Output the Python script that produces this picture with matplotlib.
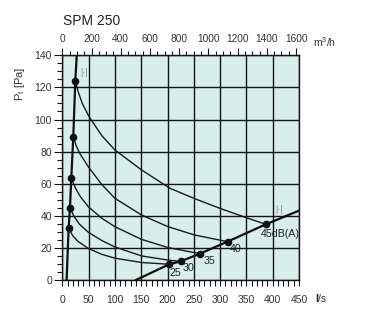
import matplotlib
matplotlib.use('Agg')
import matplotlib.pyplot as plt
from matplotlib.ticker import MultipleLocator, FixedLocator

plt.rcParams['font.family'] = ['Liberation Sans', 'DejaVu Sans']

# ---- data (flow in l/s, pressure in Pa) ----
left_q = [8.2, 12.0, 14.6, 17.1, 20.9, 24.7, 27.5]
left_p = [0, 32.2, 45.1, 63.6, 89.3, 124.2, 140]

right_q = [140, 203.3, 224.8, 261.6, 314.1, 387.0, 450]
right_p = [0, 9.8, 11.6, 16.4, 23.9, 34.7, 43.2]

dots_left_q = [12.0, 14.6, 17.1, 20.9, 24.7]
dots_left_p = [32.2, 45.1, 63.6, 89.3, 124.2]
dots_right_q = [203.3, 224.8, 261.6, 314.1, 387.0]
dots_right_p = [9.8, 11.6, 16.4, 23.9, 34.7]

c45_q = [24.7, 30, 38, 51, 75, 100, 151, 205, 250, 300, 350, 387.0]
c45_p = [124.2, 117.5, 110.0, 101.7, 90.0, 81.0, 68.5, 57.1, 50.9, 44.6, 38.8, 34.7]

c40_q = [20.9, 26, 33, 49.4, 75, 100, 150.7, 201, 252, 314.1]
c40_p = [89.3, 84.0, 79.0, 70.6, 59.5, 50.9, 40.5, 33.2, 28.0, 23.9]

c35_q = [17.1, 25, 35, 49.4, 75, 100, 150.7, 201, 261.6]
c35_p = [63.6, 57.2, 51.6, 45.7, 38.5, 33.2, 25.3, 20.2, 16.4]

c30_q = [14.6, 22, 32, 49.4, 75, 100, 150.7, 201, 224.8]
c30_p = [45.1, 39.8, 35.0, 29.8, 24.6, 20.6, 15.0, 12.4, 11.6]

c25_q = [12.0, 20, 30, 49.4, 75, 100, 150.7, 203.3]
c25_p = [32.2, 27.5, 24.0, 19.7, 16.0, 13.6, 10.9, 9.8]

curves_q = [c45_q, c40_q, c35_q, c30_q, c25_q]
curves_p = [c45_p, c40_p, c35_p, c30_p, c25_p]

label_texts = ['25', '30', '35', '40', '45dB(A)']
label_q = [215.6, 239.5, 279.5, 328.9, 414.0]
label_p = [4.2, 7.3, 12.0, 19.3, 28.7]

marker_q = [41.3, 412.6]
marker_p = [129.4, 44.2]

top_ticks = [0, 200, 400, 600, 800, 1000, 1200, 1400, 1600]
top_minor = [50, 100, 150, 250, 300, 350, 450, 500, 550, 650, 700, 750, 850, 900, 950,
             1050, 1100, 1150, 1250, 1300, 1350, 1450, 1500, 1550]

# ---- figure ----
W, H = 365, 327
fig = plt.figure(figsize=(W / 100, H / 100), dpi=100)
x0, x1, y0, y1 = 62.3, 299.0, 55.3, 280.0
ax = fig.add_axes([x0 / W, 1 - y1 / H, (x1 - x0) / W, (y1 - y0) / H])
ax.set_facecolor('#d7eeea')
ax.set_xlim(0, 450)
ax.set_ylim(0, 140)

ax.xaxis.set_major_locator(MultipleLocator(50))
ax.xaxis.set_minor_locator(MultipleLocator(10))
ax.yaxis.set_major_locator(MultipleLocator(20))
ax.yaxis.set_minor_locator(MultipleLocator(5))
ax.grid(which='major', color='#141414', lw=1.0)
ax.set_axisbelow(True)
for s in ax.spines.values():
    s.set_color('#141414')
    s.set_linewidth(1.0)

ax.tick_params(axis='x', which='major', direction='out', length=4, width=0.8,
               pad=6.5, labelsize=7.5, labelcolor='#333333', color='#141414')
ax.tick_params(axis='x', which='minor', direction='out', length=4, width=0.8,
               color='#141414')
ax.tick_params(axis='y', which='major', direction='out', length=6, width=0.8,
               pad=1.5, labelsize=7.5, labelcolor='#333333', color='#141414')
ax.tick_params(axis='y', which='minor', direction='out', length=3.5, width=0.8,
               color='#141414')

sec = ax.secondary_xaxis('top', functions=(lambda x: x * 3.6, lambda x: x / 3.6))
sec.xaxis.set_major_locator(FixedLocator(top_ticks))
sec.xaxis.set_minor_locator(FixedLocator(top_minor))
sec.tick_params(which='major', direction='out', length=5, width=0.8, pad=3,
                labelsize=7.3, labelcolor='#333333', color='#141414')
sec.tick_params(which='minor', direction='out', length=3, width=0.8, color='#141414')
sec.spines['top'].set_visible(False)

# curves
for cq, cp in zip(curves_q, curves_p):
    ax.plot(cq, cp, color='#1a1a1a', lw=1.0, zorder=3)
ax.plot(left_q, left_p, color='#111111', lw=1.6, zorder=4)
ax.plot(right_q, right_p, color='#111111', lw=1.6, zorder=4)
ax.plot(dots_left_q, dots_left_p, 'o', ms=4.5, color='#111111', zorder=5)
ax.plot(dots_right_q, dots_right_p, 'o', ms=4.5, color='#111111', zorder=5)

for t, q, p in zip(label_texts, label_q, label_p):
    ax.text(q, p, t, ha='center', va='center', fontsize=7.7, color='#222222', zorder=6)
for q, p in zip(marker_q, marker_p):
    ax.text(q, p, '|·|', ha='center', va='center', fontsize=6.5, color='#888888', zorder=6)

# labels
fig.text(63 / W, 1 - 21 / H, 'SPM 250', ha='left', va='center', fontsize=10, color='#222222')
fig.text(313 / W, 1 - 42 / H, 'm$^\\mathregular{3}$/h', ha='left', va='center',
         fontsize=7.5, color='#333333')
fig.text(20 / W, 1 - 84 / H, 'P$_\\mathregular{t}$ [Pa]', ha='center', va='center',
         rotation=90, fontsize=8, color='#333333')
fig.text(315 / W, 1 - 299 / H, 'l', ha='left', va='center', fontsize=8,
         fontweight='bold', color='#222222')
fig.text(318.5 / W, 1 - 299 / H, '/s', ha='left', va='center', fontsize=7.5,
         color='#333333')

fig.savefig('out.png', dpi=100)
